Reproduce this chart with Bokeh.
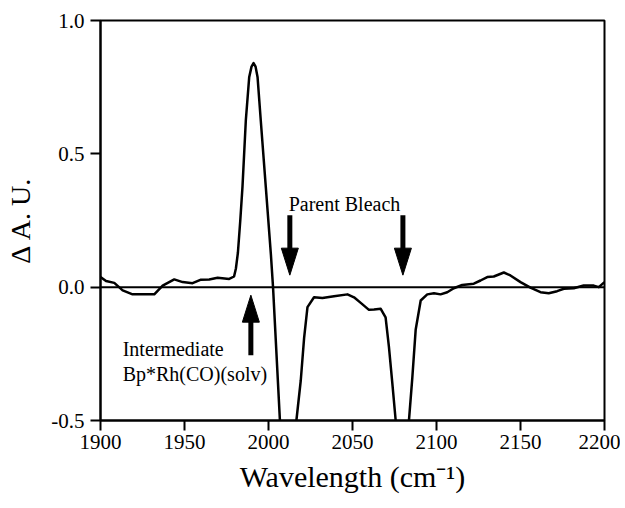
from bokeh.plotting import figure
from bokeh.models import Range1d, FixedTicker, Span, Arrow, Label
from bokeh.embed import file_html
from bokeh.resources import INLINE

# ---- data ----
wavenumber = [1900, 1903.3, 1908.2, 1913.2, 1919.1, 1927, 1932, 1937, 1943.9, 1948.9,
              1954.8, 1959.8, 1964.7, 1969.7, 1976.6, 1979.5, 1980.6, 1981.8, 1983.2, 1984.5,
              1986.5, 1988.5, 1989.9, 1991.1, 1992.3, 1993.5, 1995.4, 1998.4, 2001.4, 2002.7,
              2006.8, 2011, 2016.6, 2019.2, 2021.2, 2023.2, 2027.1, 2032.1, 2039, 2047,
              2050.9, 2054.9, 2059.8, 2062.8, 2066.8, 2069.7, 2071.7, 2073.7, 2075.7, 2079.6,
              2083.6, 2085.6, 2087.6, 2090.6, 2094.5, 2098.5, 2102.4, 2106.4, 2110.3, 2115.3,
              2122.2, 2126.2, 2130.2, 2134.1, 2140.1, 2144, 2150, 2155.9, 2161.9, 2166.8,
              2171.8, 2175.8, 2181.7, 2187.6, 2193.6, 2196.6, 2200]
delta_abs = [0.038, 0.023, 0.016, -0.012, -0.027, -0.027, -0.027, 0.006, 0.029, 0.019,
             0.015, 0.028, 0.029, 0.035, 0.031, 0.04, 0.07, 0.13, 0.25, 0.375,
             0.625, 0.787, 0.827, 0.840, 0.827, 0.787, 0.625, 0.375, 0.125, 0.0,
             -0.5, -0.8, -0.5, -0.35, -0.19, -0.075, -0.038, -0.041, -0.034, -0.027,
             -0.038, -0.059, -0.085, -0.084, -0.081, -0.113, -0.225, -0.36, -0.5, -0.75,
             -0.5, -0.34, -0.16, -0.05, -0.027, -0.023, -0.027, -0.019, -0.004, 0.008,
             0.013, 0.025, 0.038, 0.04, 0.055, 0.044, 0.019, -0.002, -0.019, -0.023,
             -0.015, -0.006, -0.004, 0.006, 0.006, 0.0, 0.019]

x_ticks = [1900, 1950, 2000, 2050, 2100, 2150, 2200]
y_ticks = [-0.5, 0.0, 0.5, 1.0]
y_tick_labels = ["-0.5", "0.0", "0.5", "1.0"]

# annotations: arrow positions in data units (x, tail y, tip y)
arrows_x = [2012.7, 2080.0, 1989.5]
arrows_tail = [0.27, 0.27, -0.255]
arrows_tip = [0.045, 0.045, -0.03]

FONT = "Liberation Serif"

X0, X1, Y0, Y1 = 1900, 2200, -0.5, 1.0
W, H = 620, 500
BL, BR, BT, BB = 100, 16, 20, 80

p = figure(width=W, height=H, output_backend="svg", toolbar_location=None,
           x_range=Range1d(X0, X1), y_range=Range1d(Y0, Y1),
           min_border_left=BL, min_border_right=BR, min_border_top=BT, min_border_bottom=BB)

p.grid.visible = False
p.outline_line_color = "black"
p.outline_line_width = 2
p.background_fill_color = "white"
p.border_fill_color = "white"

for ax in (p.xaxis[0], p.yaxis[0]):
    ax.axis_line_width = 2
    ax.axis_line_color = "black"
    ax.major_tick_line_width = 2
    ax.major_tick_line_color = "black"
    ax.major_tick_out = 10
    ax.major_tick_in = 0
    ax.minor_tick_out = 0
    ax.minor_tick_in = 0
    ax.major_label_text_font = FONT
    ax.major_label_text_font_size = "21px"
    ax.major_label_text_color = "black"
    ax.axis_label_text_font = FONT
    ax.axis_label_text_font_style = "normal"
    ax.axis_label_text_color = "black"

p.xaxis.ticker = FixedTicker(ticks=x_ticks)
p.yaxis.ticker = FixedTicker(ticks=y_ticks)
p.yaxis.major_label_overrides = {t: s for t, s in zip(y_ticks, y_tick_labels)}
p.xaxis.major_label_standoff = 4
p.yaxis.major_label_standoff = 6

p.xaxis.axis_label = "Wavelength (cm\u207b\u00b9)"
p.xaxis.axis_label_text_font_size = "30px"
p.xaxis.axis_label_standoff = 8
p.yaxis.axis_label = "\u0394 A. U."
p.yaxis.axis_label_text_font_size = "28px"
p.yaxis.axis_label_standoff = 12

p.add_layout(Span(location=0, dimension="width", line_color="black", line_width=2))

p.line(wavenumber, delta_abs, line_color="black", line_width=2.5, line_join="round")

# arrows: shaft + elongated triangular head (head sized in screen pixels)
px_per_x = (W - BL - BR) / (X1 - X0)
px_per_y = (H - BT - BB) / (Y1 - Y0)
head_len = 27 / px_per_y
head_half = 8.5 / px_per_x
head_xs, head_ys = [], []
for xa, yt, yp in zip(arrows_x, arrows_tail, arrows_tip):
    d = 1 if yp > yt else -1
    base = yp - d * head_len
    p.add_layout(Arrow(end=None, x_start=xa, y_start=yt, x_end=xa, y_end=base + d * 0.01,
                       line_color="black", line_width=5))
    head_xs.append([xa - head_half, xa + head_half, xa])
    head_ys.append([base, base, yp])
p.patches(head_xs, head_ys, fill_color="black", line_color="black", line_width=1)

label_texts = ["Parent Bleach", "Intermediate", "Bp*Rh(CO)(solv)"]
label_x = [2012.0, 1913.2, 1913.2]
label_y = [0.312, -0.232, -0.325]
for t, lx, ly in zip(label_texts, label_x, label_y):
    p.add_layout(Label(x=lx, y=ly, text=t, text_font=FONT, text_font_size="20px",
                       text_color="black", text_baseline="alphabetic", text_align="left"))

open("out.html", "w").write(file_html(p, INLINE))
